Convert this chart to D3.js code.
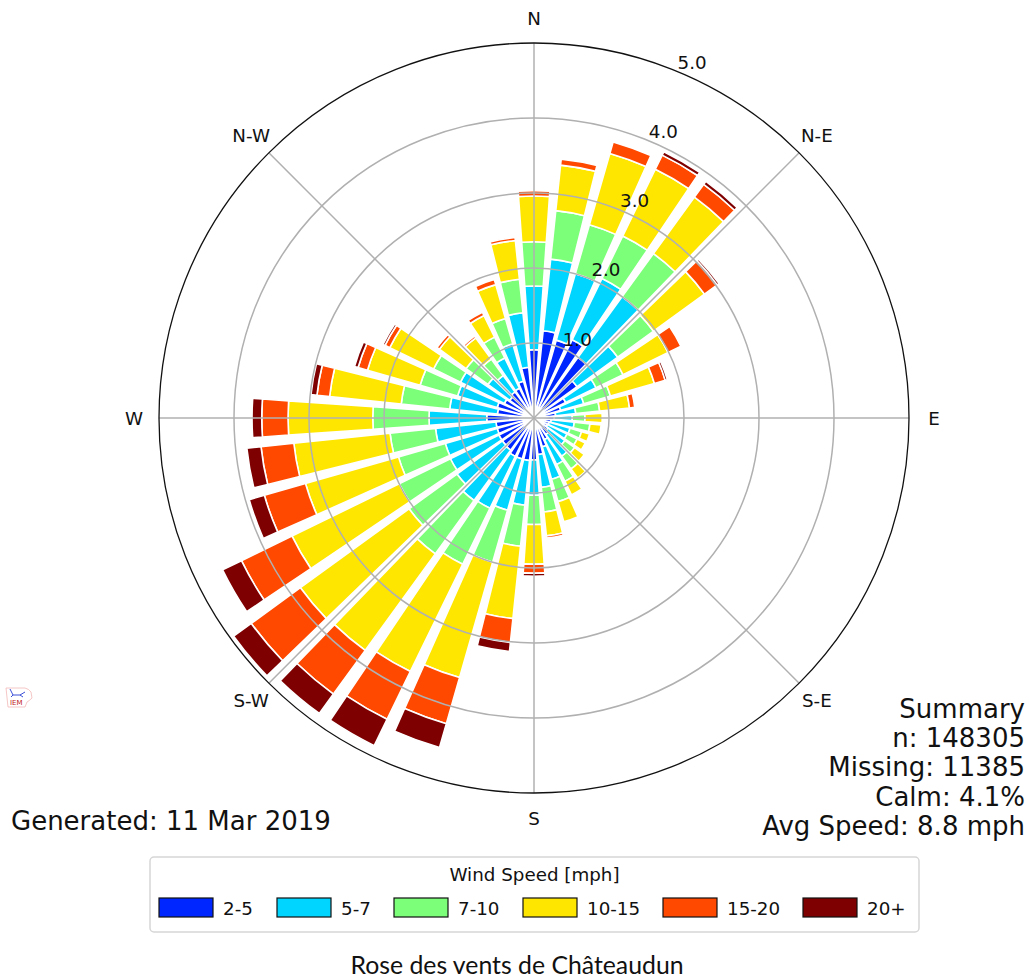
<!DOCTYPE html>
<html>
<head>
<meta charset="utf-8">
<script src="https://cdn.jsdelivr.net/npm/d3@7"></script>
<style>
html,body{margin:0;padding:0;background:#fff;overflow:hidden}
svg{display:block}
text{font-family:"DejaVu Sans",sans-serif;fill:#111}
</style>
</head>
<body>
<script>
const directions = d3.range(0, 360, 10);
const speedBins = ["2-5", "5-7", "7-10", "10-15", "15-20", "20+"];
const binColors = ["#0026ff", "#00d5ff", "#7cff79", "#ffe600", "#ff4800", "#7f0000"];
const s2to5 = [.91,1.17,1.08,1.16,1.00,.71,.47,.37,.29,.27,.23,.21,.20,.23,.27,.32,.40,.49,.56,.57,.57,.57,.53,.52,.52,.51,.51,.63,.49,.51,.44,.40,.43,.44,.51,.68];
const s5to7 = [.85,.96,.92,.91,1.00,.67,.45,.32,.27,.24,.31,.29,.29,.28,.36,.37,.45,.44,.47,.60,.71,.77,.83,.75,.72,.72,.81,.77,.64,.55,.65,.36,.27,.45,.52,.73];
const s7to10 = [.59,.65,.68,.63,.71,.59,.40,.37,.32,.17,.21,.16,.15,.16,.21,.25,.31,.33,.39,.55,.72,.83,.88,.79,.76,.65,.61,.75,.65,.52,.40,.36,.27,.31,.35,.45];
const s10to15 = [.61,.61,.99,.99,.93,.84,.67,.61,.40,.23,.15,.11,.12,.16,.15,.20,.28,.32,.53,.97,1.60,1.59,1.59,1.79,1.59,1.29,1.29,1.13,.96,.73,.65,.44,.35,.32,.47,.52];
const s15to20 = [.07,.08,.16,.21,.21,.21,.19,.15,.07,0,0,0,0,0,0,0,0,.03,.12,.32,.64,.71,.72,.81,.75,.57,.44,.35,.17,.13,.07,.04,.03,.05,.07,.04];
const s20plus = [0,0,0,.05,.05,.03,0,.03,0,0,0,0,0,0,0,0,0,0,.04,.12,.33,.39,.32,.29,.28,.21,.19,.13,.08,.05,.03,0,0,0,0,0];
const radialTicks = [1, 2, 3, 4, 5];
const compassLabels = ["N", "N-E", "E", "S-E", "S", "S-W", "W", "N-W"];
const summaryLines = ["Summary", "n: 148305", "Missing: 11385", "Calm: 4.1%", "Avg Speed: 8.8 mph"];
const generatedLabel = "Generated: 11 Mar 2019";
const legendTitle = "Wind Speed [mph]";
const chartTitle = "Rose des vents de Châteaudun";

const svg = d3.select("body").append("svg").attr("width", 1030).attr("height", 979);
const cx = 534, cy = 418;
const r = d3.scaleLinear().domain([0, 5]).range([0, 375]);
const barWidth = 8 * Math.PI / 180;
const angle = d => d * Math.PI / 180;

const table = directions.map((d, i) => ({dir: d, s0: s2to5[i], s1: s5to7[i], s2: s7to10[i], s3: s10to15[i], s4: s15to20[i], s5: s20plus[i]}));
const stacked = d3.stack().keys(["s0","s1","s2","s3","s4","s5"])(table);
const arc = d3.arc();
const plot = svg.append("g").attr("transform", `translate(${cx},${cy})`);

plot.append("circle").attr("r", r(5)).attr("fill", "#fff");

stacked.forEach((layer, k) => {
  plot.append("g").selectAll("path")
    .data(layer.filter(v => v[1] - v[0] > 0))
    .join("path")
    .attr("d", v => arc({
      innerRadius: r(v[0]), outerRadius: r(v[1]),
      startAngle: angle(v.data.dir) - barWidth / 2,
      endAngle: angle(v.data.dir) + barWidth / 2
    }))
    .attr("fill", binColors[k])
    .attr("stroke", "#fff")
    .attr("stroke-width", 1.6);
});

const grid = plot.append("g").attr("fill", "none").attr("stroke", "#b0b0b0").attr("stroke-width", 1.5);
grid.selectAll("circle").data(radialTicks.slice(0, -1)).join("circle").attr("r", d => r(d));
grid.selectAll("line").data(compassLabels).join("line")
  .attr("x1", 0).attr("y1", 0)
  .attr("x2", (d, i) => r(5) * Math.sin(angle(i * 45)))
  .attr("y2", (d, i) => -r(5) * Math.cos(angle(i * 45)));

plot.append("circle").attr("r", r(5)).attr("fill", "none").attr("stroke", "#111").attr("stroke-width", 1.3);

plot.append("g").selectAll("text").data(compassLabels).join("text")
  .attr("x", (d, i) => 400 * Math.sin(angle(i * 45)))
  .attr("y", (d, i) => -400 * Math.cos(angle(i * 45)))
  .attr("text-anchor", "middle").attr("dominant-baseline", "central")
  .attr("font-size", 18.3).text(d => d);

plot.append("g").selectAll("text").data(radialTicks).join("text")
  .attr("x", d => r(d) * Math.sin(angle(22.5)))
  .attr("y", d => -r(d) * Math.cos(angle(22.5)) - 3)
  .attr("font-size", 18.3).text(d => d.toFixed(1));

svg.append("g").selectAll("text").data(summaryLines).join("text")
  .attr("x", 1025).attr("y", (d, i) => 718 + i * 29.2)
  .attr("text-anchor", "end").attr("font-size", 26).text(d => d);

svg.append("text").attr("x", 11).attr("y", 830).attr("font-size", 26).text(generatedLabel);

svg.append("rect").attr("x", 150).attr("y", 857).attr("width", 769).attr("height", 75).attr("rx", 4)
  .attr("fill", "#fff").attr("stroke", "#d6d6d6").attr("stroke-width", 1.5);
svg.append("text").attr("x", 534.5).attr("y", 881).attr("text-anchor", "middle").attr("font-size", 18.3).text(legendTitle);
const swatchX = [159, 277, 394, 523, 663, 803];
const legend = svg.append("g").selectAll("g").data(speedBins).join("g");
legend.append("rect").attr("x", (d, i) => swatchX[i]).attr("y", 898).attr("width", 54).attr("height", 19)
  .attr("fill", (d, i) => binColors[i]).attr("stroke", "#111").attr("stroke-width", 1.2);
legend.append("text").attr("x", (d, i) => swatchX[i] + 64).attr("y", 915).attr("font-size", 18.3).text(d => d);

svg.append("text").attr("x", 517).attr("y", 973.5).attr("text-anchor", "middle")
  .style("font-family", "Lato, sans-serif").attr("font-size", 24.8).text(chartTitle);

const logo = svg.append("g").attr("transform", "translate(5,686)");
logo.append("path").attr("d", "M1 2H20Q24 3 26 6L27 12Q24 15 22 16L20 21H3Z")
  .attr("fill", "#fff").attr("stroke", "#f3b7b7").attr("stroke-width", 0.8);
logo.append("path").attr("d", "M5 3L8 9H15L20 6M8 9L6 11M15 9L18 11")
  .attr("fill", "none").attr("stroke", "#3a4fd8").attr("stroke-width", 1);
logo.append("text").attr("x", 5).attr("y", 18.5).attr("font-size", 7).style("fill", "#c02020").text("IEM");
</script>
</body>
</html>
